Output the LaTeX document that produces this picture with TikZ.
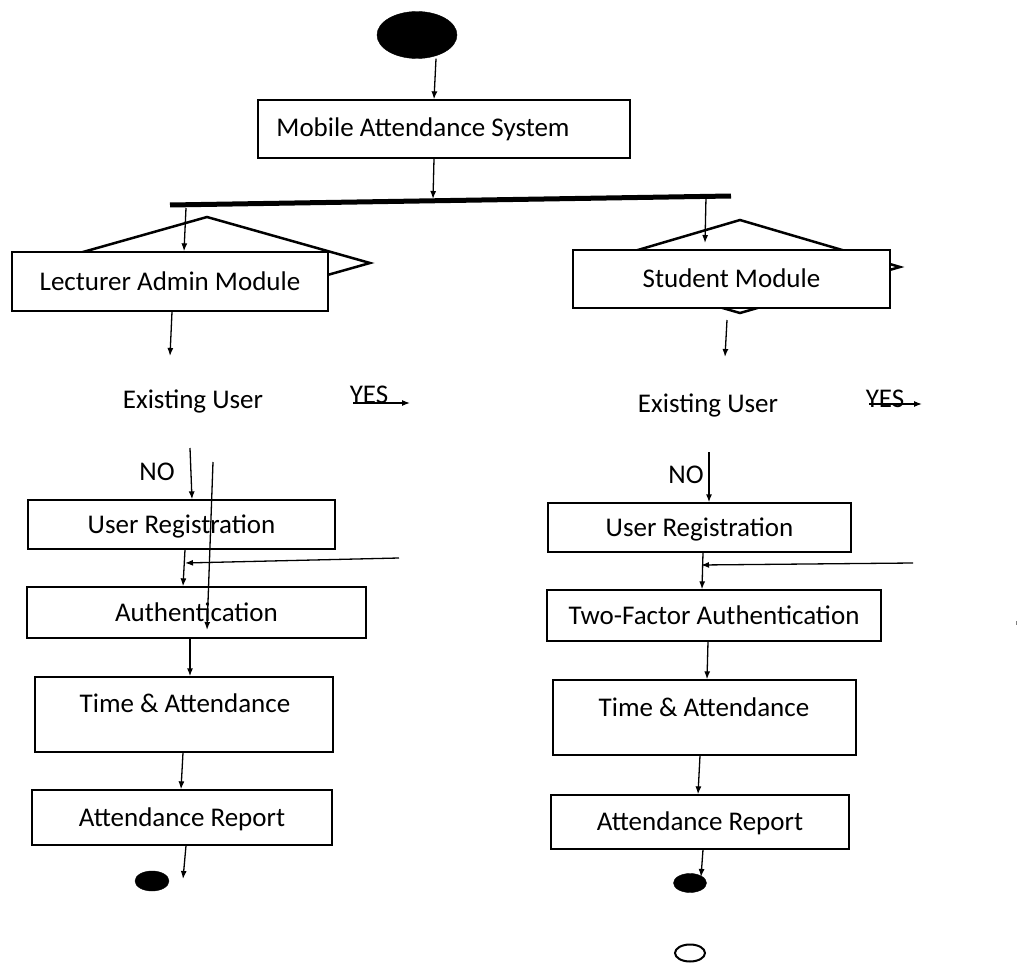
\documentclass[tikz,border=0pt]{standalone}
\usepackage{fontspec}
\setmainfont{Carlito}
\usetikzlibrary{shapes.geometric,arrows.meta}
\begin{document}
\begin{tikzpicture}[x=1pt,y=-1pt,
  box/.style={draw,line width=1.3pt,fill=white,rectangle,inner sep=0pt,font=\fontsize{27}{31}\selectfont,text height=17.4pt,text depth=0pt},
  txt/.style={font=\fontsize{27}{31}\selectfont,inner sep=0pt},
  arr/.style={line width=1.3pt,-{Latex[length=8pt,width=6pt]}},
  dia/.style={line width=2.5pt,line join=miter},
  blob/.style={ellipse,fill=black,draw=black,inner sep=0pt}]
\fill[white] (0,0) rectangle (1018,963);
\useasboundingbox (0,0) rectangle (1018,963);

% start
\node[blob,minimum width=80pt,minimum height=47pt] (start) at (417,35) {};
\node[box,minimum width=372pt,minimum height=58pt] (mas) at (444,129) {};
\node[txt] (mast) at (423,129) {Mobile Attendance System};
\draw[arr] ([xshift=19pt]start.south) -- ([xshift=-10pt]mas.north);

% fork bar
\coordinate (barL) at (170,205);
\coordinate (barR) at (731,196);
\draw[line width=5pt] (barL) -- (barR);
\coordinate (fk) at (433,199);
\draw[arr] ([xshift=-10pt]mas.south) -- (fk);

% diamonds
\draw[dia] (44,263) -- (207,217) -- (370,263) -- (207,309) -- cycle;
\draw[dia] (580,267) -- (740,220) -- (900,267) -- (740,313) -- cycle;

% module boxes
\node[box,minimum width=316pt,minimum height=59pt] (lam) at (170,281.5) {Lecturer Admin Module};
\node[box,minimum width=317pt,minimum height=58pt] (sm) at (731.5,279) {Student Module};

\coordinate (fkL) at (186,208);
\coordinate (fkR) at (706,197);
\coordinate (smin) at (705,243);
\draw[arr] (fkL) -- ([xshift=14pt]lam.north);
\draw[arr] (fkR) -- (smin);

% ---------- left column ----------
\coordinate (a1) at (170,356);
\draw[arr] ([xshift=2pt]lam.south) -- (a1);
\node[txt] (eu1) at (193,401) {Existing User};
\node[txt] (yes1) at (369,395) {YES};
\coordinate (y1s) at (353,403);
\coordinate (y1e) at (410,403);
\draw[arr] (y1s) -- (y1e);
\node[txt] (no1) at (157,472) {NO};

\node[box,minimum width=307pt,minimum height=49pt] (ur1) at (181.5,524.5) {User Registration};
\node[box,minimum width=339pt,minimum height=51pt] (au1) at (196.5,612.5) {Authentication};
\node[box,minimum width=298pt,minimum height=75pt] (ta1) at (184,714.5) {};
\node[txt] (ta1t) at (185,703) {Time \& Attendance};
\node[box,minimum width=300pt,minimum height=55pt] (ar1) at (182,817.5) {Attendance Report};
\node[blob,minimum width=34pt,minimum height=20pt] (end1) at (152,881) {};

\coordinate (n1s) at (190,448);
\draw[arr] (n1s) -- ([xshift=10.5pt]ur1.north);
\coordinate (l1s) at (213,462);
\coordinate (l1e) at (207,630);
\draw[arr] (l1s) -- (l1e);
\draw[arr] ([xshift=3.5pt]ur1.south) -- ([xshift=-13.5pt]au1.north);
\coordinate (h1s) at (399,558);
\coordinate (h1e) at (185,563);
\draw[arr] (h1s) -- (h1e);
\draw[arr] ([xshift=-6.5pt]au1.south) -- ([xshift=6pt]ta1.north);
\draw[arr] ([xshift=-1pt]ta1.south) -- ([xshift=-1pt]ar1.north);
\coordinate (e1a) at (183,879);
\draw[arr] ([xshift=4pt]ar1.south) -- (e1a);

% ---------- right column ----------
\coordinate (s2s) at (727,320);
\coordinate (a2) at (725,357);
\draw[arr] (s2s) -- (a2);
\node[txt] (eu2) at (708,405) {Existing User};
\node[txt] (yes2) at (885,399) {YES};
\coordinate (y2s) at (869,404);
\coordinate (y2e) at (922,404);
\draw[arr] (y2s) -- (y2e);
\node[txt] (no2) at (686,475) {NO};

\node[box,minimum width=303pt,minimum height=49pt] (ur2) at (699.5,527.5) {User Registration};
\node[box,minimum width=334pt,minimum height=51pt] (tf) at (714,615.5) {Two-Factor Authentication};
\node[box,minimum width=303pt,minimum height=75pt] (ta2) at (704.5,717.5) {};
\node[txt] (ta2t) at (704,707) {Time \& Attendance};
\node[box,minimum width=298pt,minimum height=54pt] (ar2) at (700,822) {Attendance Report};
\node[blob,minimum width=33pt,minimum height=19pt] (end2) at (690,883) {};
\node[ellipse,draw,line width=2pt,minimum width=30pt,minimum height=17pt,inner sep=0pt] (end3) at (690,953) {};

\coordinate (n2s) at (709,452);
\draw[arr] (n2s) -- ([xshift=9.5pt]ur2.north);
\draw[arr] ([xshift=3.5pt]ur2.south) -- ([xshift=-12pt]tf.north);
\coordinate (h2s) at (913,563);
\coordinate (h2e) at (701,565);
\draw[arr] (h2s) -- (h2e);
\draw[arr] ([xshift=-6pt]tf.south) -- ([xshift=2.5pt]ta2.north);
\draw[arr] ([xshift=-4.5pt]ta2.south) -- ([xshift=-2pt]ar2.north);
\coordinate (e2a) at (701,877);
\draw[arr] ([xshift=3pt]ar2.south) -- (e2a);

% tiny stray mark
\draw[line width=0.8pt,gray] (1016.5,621) -- (1016.5,625);
\end{tikzpicture}
\end{document}
